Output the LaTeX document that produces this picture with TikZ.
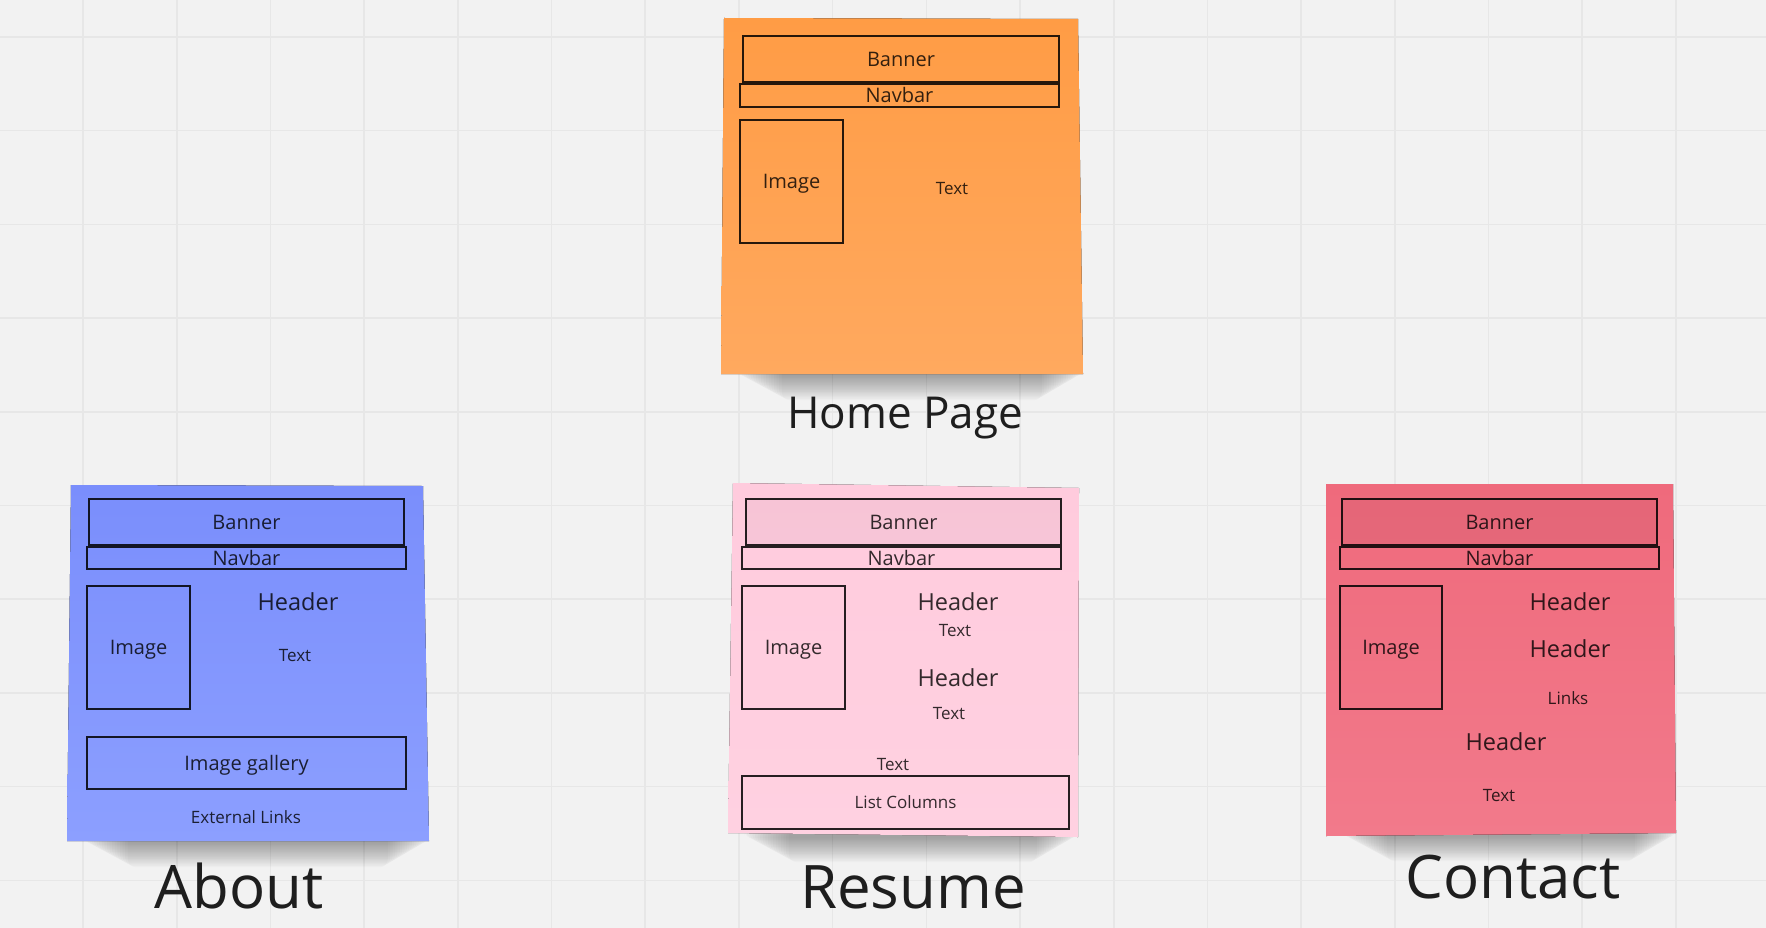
\documentclass[tikz,border=0pt]{standalone}
\usepackage{fontspec}
\setmainfont{Open Sans}
\newcommand\fsz[1]{\fontsize{#1pt}{#1pt}\selectfont}
\definecolor{board}{HTML}{F2F2F2}
\definecolor{gridc}{HTML}{E7E7E7}
\definecolor{ink}{HTML}{1E1E1E}
\definecolor{orgA}{HTML}{FF9C45}
\definecolor{orgB}{HTML}{FFA95F}
\definecolor{bluA}{HTML}{7A8EFC}
\definecolor{bluB}{HTML}{8C9FFF}
\definecolor{pnkA}{HTML}{FFCBDD}
\definecolor{pnkB}{HTML}{FFD1E1}
\definecolor{redA}{HTML}{EF6A7C}
\definecolor{redB}{HTML}{F27A8B}
% soft shadow beneath a sticky note: left x, right x, bottom y
\newcommand\noteshadow[3]{%
  \foreach \k in {1,...,18}
    \fill[black, opacity=0.02, rounded corners=8pt]
      ({#1+14+2.6*\k},{#3-8}) rectangle ({#2+2-2.4*\k},{#3+1.4*\k+1});}
\begin{document}
\begin{tikzpicture}[x=1pt,y=-1pt,
  box/.style={draw=black, draw opacity=0.85, line width=2pt, inner sep=0pt,
    text=black, text opacity=0.8, font=\fsz{20}, text height=14.3pt, text depth=0pt},
  lbl/.style={anchor=base, inner sep=0pt, text=black, text opacity=0.8},
  head/.style={lbl, font=\fsz{23.5}},
  small/.style={lbl, font=\fsz{17}},
  title/.style={anchor=base, inner sep=0pt, text=ink}]

% board and grid
\fill[board] (0,0) rectangle (1766,928);
\useasboundingbox (0,0) rectangle (1766,928);
\foreach \i in {0,...,18}
  \draw[gridc, line width=1.6pt] ({83+93.7*\i},0) -- ({83+93.7*\i},928);
\foreach \j in {0,...,9}
  \draw[gridc, line width=1.6pt] (0,{37+93.7*\j}) -- (1766,{37+93.7*\j});

% ---------- Home Page ----------
\noteshadow{721}{1083}{374}
\fill[top color=orgA, bottom color=orgB] (724,18) -- (1078,19) -- (1083,374) -- (721,374) -- cycle;
\node[box, minimum width=316pt, minimum height=46pt] (hban) at (901,59) {Banner};
\node[box, minimum width=319pt, minimum height=23pt] (hnav) at (899.5,95.5) {Navbar};
\node[box, minimum width=103pt, minimum height=123pt] (himg) at (791.5,181.5) {Image};
\node[small] (htxt) at (952,195) {Text};
\node[title, font=\fsz{44}] (htitle) at (905,428) {Home Page};

% ---------- About ----------
\noteshadow{67}{429}{841}
\fill[top color=bluA, bottom color=bluB] (71,485) -- (423,486) -- (429,841) -- (67,841) -- cycle;
\node[box, minimum width=315pt, minimum height=46pt] (aban) at (246.5,522) {Banner};
\node[box, minimum width=319pt, minimum height=22pt] (anav) at (246.5,558) {Navbar};
\node[box, minimum width=103pt, minimum height=123pt] (aimg) at (138.5,647.5) {Image};
\node[head] (ahead) at (298,610) {Header};
\node[small] (atxt) at (295,661) {Text};
\node[box, minimum width=319pt, minimum height=52pt] (agal) at (246.5,763) {Image gallery};
\node[small] (alinks) at (246,823) {External Links};
\node[title, font=\fsz{60}] (atitle) at (239,908) {About};

% ---------- Resume ----------
\noteshadow{728}{1078}{836}
\fill[top color=pnkA, bottom color=pnkB] (733,483) -- (1079,488) -- (1078,837) -- (728,833) -- cycle;
\node[box, fill=black, fill opacity=0.03, minimum width=315pt, minimum height=46pt] (rban) at (903.5,522) {Banner};
\node[box, minimum width=319pt, minimum height=22pt] (rnav) at (901.5,558) {Navbar};
\node[box, minimum width=103pt, minimum height=123pt] (rimg) at (793.5,647.5) {Image};
\node[head] (rhead1) at (958,610) {Header};
\node[small] (rtxt1) at (955,636) {Text};
\node[head] (rhead2) at (958,686) {Header};
\node[small] (rtxt2) at (949,719) {Text};
\node[small] (rtxt3) at (893,770) {Text};
\node[box, font=\fsz{17}, text height=12.2pt, minimum width=327pt, minimum height=53pt] (rlist) at (905.5,802.5) {List Columns};
\node[title, font=\fsz{60}] (rtitle) at (913,908) {Resume};

% ---------- Contact ----------
\noteshadow{1326}{1676}{835}
\fill[top color=redA, bottom color=redB] (1326,484) -- (1673,484) -- (1676,833) -- (1326,836) -- cycle;
\node[box, fill=black, fill opacity=0.04, minimum width=315pt, minimum height=46pt] (cban) at (1499.5,522) {Banner};
\node[box, minimum width=319pt, minimum height=22pt] (cnav) at (1499.5,558) {Navbar};
\node[box, minimum width=102pt, minimum height=123pt] (cimg) at (1391,647.5) {Image};
\node[head] (chead1) at (1570,610) {Header};
\node[head] (chead2) at (1570,657) {Header};
\node[small] (clinks) at (1568,704) {Links};
\node[head] (chead3) at (1506,750) {Header};
\node[small] (ctxt) at (1499,801) {Text};
\node[title, font=\fsz{60}] (ctitle) at (1513,898) {Contact};
\end{tikzpicture}
\end{document}
